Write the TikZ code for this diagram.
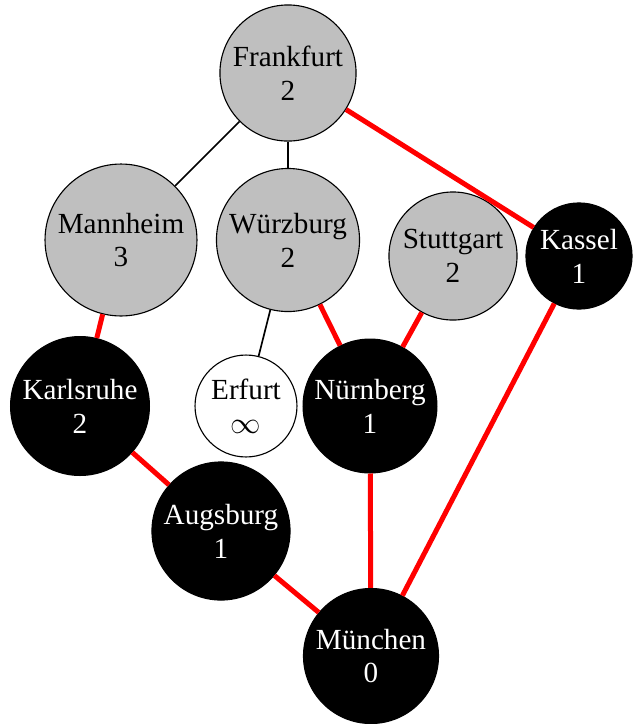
\documentclass[tikz,border=0pt]{standalone}
\usepackage{fontspec}
\setmainfont{Liberation Serif}
\usepackage{amsmath}
\usepackage{tikz}
\usetikzlibrary{positioning}
\tikzset{
  city/.style={circle,draw,thin,align=center,inner sep=0pt,
    font=\fontsize{10.5}{12.2}\selectfont},
  open/.style={city,fill=white},
  seen/.style={city,fill=lightgray},
  done/.style={city,fill=black,text=white},
  tree/.style={semithick},
  path/.style={red,line width=1.8pt}
}

\begin{document}
\begin{tikzpicture}[x=0.36pt,y=-0.36pt]
        \useasboundingbox (0,0) rectangle (635,724);
        \path
        % top
        (288,73) node[seen,minimum size=49pt](F) {Frankfurt\\2}

        % second row
        (121,240) node[seen,minimum size=54.7pt](MA) {Mannheim\\3}
        (288,240) node[seen,minimum size=51.5pt](WUE) {Würzburg\\2}
        (453,256) node[seen,minimum size=46.1pt](S) {Stuttgart\\2}
        (579,256) node[done,minimum size=38.2pt](KS) {Kassel\\1}

        % third row
        (80,406) node[done,minimum size=50pt](KA) {Karlsruhe\\2}
        (246,406) node[open,minimum size=36.7pt](EF) {Erfurt\\$\infty$}
        (370,406) node[done,minimum size=48.2pt](N) {Nürnberg\\1}

        % bottom
        (221,531) node[done,minimum size=49.7pt](A) {Augsburg\\1}
        (371,656) node[done,minimum size=48.6pt](M) {München\\0}
        ;

        \draw[tree] (F) -- (MA);
        \draw[tree] (F) -- (WUE);
        \draw[tree] (WUE) -- (EF);

        \draw[path] (F) -- (KS);
        \draw[path] (MA) -- (KA);
        \draw[path] (WUE) -- (N);
        \draw[path] (S) -- (N);
        \draw[path] (KA) -- (A);
        \draw[path] (A) -- (M);
        \draw[path] (N) -- (M);
        \draw[path] (KS) -- (M);
      \end{tikzpicture}
\end{document}
